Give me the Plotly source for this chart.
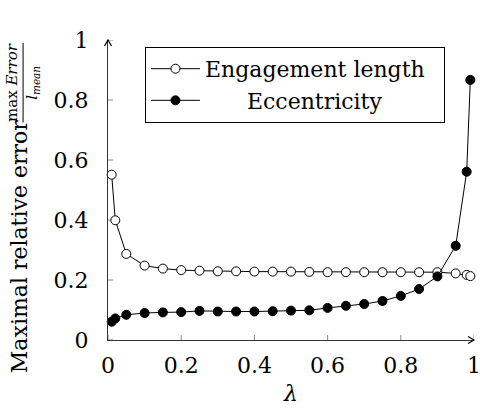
import plotly.graph_objects as go

lam = [0.01, 0.02, 0.05, 0.10, 0.15, 0.20, 0.25, 0.30, 0.35, 0.40, 0.45, 0.50,
       0.55, 0.60, 0.65, 0.70, 0.75, 0.80, 0.85, 0.90, 0.95, 0.98, 0.99]
engagement = [0.551, 0.399, 0.287, 0.248, 0.238, 0.233, 0.231, 0.229, 0.229, 0.228, 0.228, 0.228,
              0.227, 0.226, 0.226, 0.226, 0.226, 0.226, 0.226, 0.226, 0.222, 0.217, 0.213]
eccentricity = [0.061, 0.072, 0.084, 0.090, 0.092, 0.093, 0.097, 0.095, 0.095, 0.095, 0.096, 0.098,
                0.099, 0.107, 0.114, 0.120, 0.130, 0.147, 0.170, 0.212, 0.314, 0.561, 0.867]
ticks = [0, 0.2, 0.4, 0.6, 0.8, 1]
tick_labels = ["0", "0.2", "0.4", "0.6", "0.8", "1"]

FONT = "DejaVu Serif"
AXC = "#333333"
TICKC = "#8a8a8a"

fig = go.Figure()
fig.add_trace(go.Scatter(
    x=lam, y=engagement, mode="lines+markers", name="Engagement length\u00a0\u00a0",
    line=dict(color="black", width=1),
    marker=dict(symbol="circle", size=9, color="white", line=dict(color="black", width=1)),
    cliponaxis=False))
fig.add_trace(go.Scatter(
    x=lam, y=eccentricity, mode="lines+markers",
    name="\u00a0\u00a0\u00a0\u00a0\u00a0\u00a0Eccentricity",
    line=dict(color="black", width=1),
    marker=dict(symbol="circle", size=9, color="black", line=dict(color="black", width=1)),
    cliponaxis=False))

shapes = []
for v in ticks:
    shapes.append(dict(type="line", xref="x", yref="y", x0=v, x1=v,
                       ysizemode="pixel", yanchor=0, y0=-5, y1=5,
                       line=dict(color=TICKC, width=1), layer="below"))
    shapes.append(dict(type="line", xref="x", yref="y", y0=v, y1=v,
                       xsizemode="pixel", xanchor=0, x0=-5, x1=5,
                       line=dict(color=TICKC, width=1), layer="below"))
# axis arrow heads (paper-referenced so they are not clipped)
shapes.append(dict(type="path", xref="paper", yref="paper", xsizemode="pixel", ysizemode="pixel",
                   xanchor=1, yanchor=0, path="M-6,-3.5 L0,0 L-6,3.5",
                   line=dict(color="black", width=1.2), layer="above"))
shapes.append(dict(type="path", xref="paper", yref="paper", xsizemode="pixel", ysizemode="pixel",
                   xanchor=0, yanchor=1, path="M-3.5,-6 L0,0 L3.5,-6",
                   line=dict(color="black", width=1.2), layer="above"))
# fraction bar of the y-label
shapes.append(dict(type="line", xref="paper", yref="paper", x0=-0.232, x1=-0.232,
                   y0=0.725, y1=0.99, line=dict(color="black", width=1)))

annotations = [
    dict(x=-0.240, y=0.31, xref="paper", yref="paper", text="Maximal relative error",
         xanchor="center", yanchor="middle",
         textangle=-90, showarrow=False, font=dict(family=FONT, size=22, color="black")),
    dict(x=-0.262, y=0.857, xref="paper", yref="paper", text="max <i>Error</i>",
         xanchor="center", yanchor="middle",
         textangle=-90, showarrow=False, font=dict(family=FONT, size=15, color="black")),
    dict(x=-0.205, y=0.857, xref="paper", yref="paper", text="<i>l<sub>mean</sub></i>",
         xanchor="center", yanchor="middle",
         textangle=-90, showarrow=False, font=dict(family=FONT, size=15, color="black")),
]

fig.update_layout(
    width=480, height=417,
    margin=dict(l=108, r=6, t=40, b=77, autoexpand=False),
    paper_bgcolor="white", plot_bgcolor="white",
    font=dict(family=FONT, size=22, color="black"),
    xaxis=dict(range=[0, 1], tickvals=ticks, ticktext=tick_labels, ticks="",
               showgrid=False, zeroline=False, showline=True, linecolor=AXC, linewidth=1,
               title=dict(text="<i>λ</i>", font=dict(size=22), standoff=8),
               ticklabelstandoff=6, ticklabeloverflow="allow", automargin=False),
    yaxis=dict(range=[0, 1], tickvals=ticks, ticktext=tick_labels, ticks="",
               showgrid=False, zeroline=False, showline=True, linecolor=AXC, linewidth=1,
               ticklabelstandoff=14, ticklabeloverflow="allow", automargin=False),
    legend=dict(x=0.101, y=0.977, xanchor="left", yanchor="top",
                bordercolor="black", borderwidth=1, bgcolor="white",
                font=dict(family=FONT, size=22, color="black"), itemwidth=49),
    shapes=shapes, annotations=annotations,
)
fig.write_html("out.html", config={"displayModeBar": False},
               post_script="document.body.style.margin='0';")
